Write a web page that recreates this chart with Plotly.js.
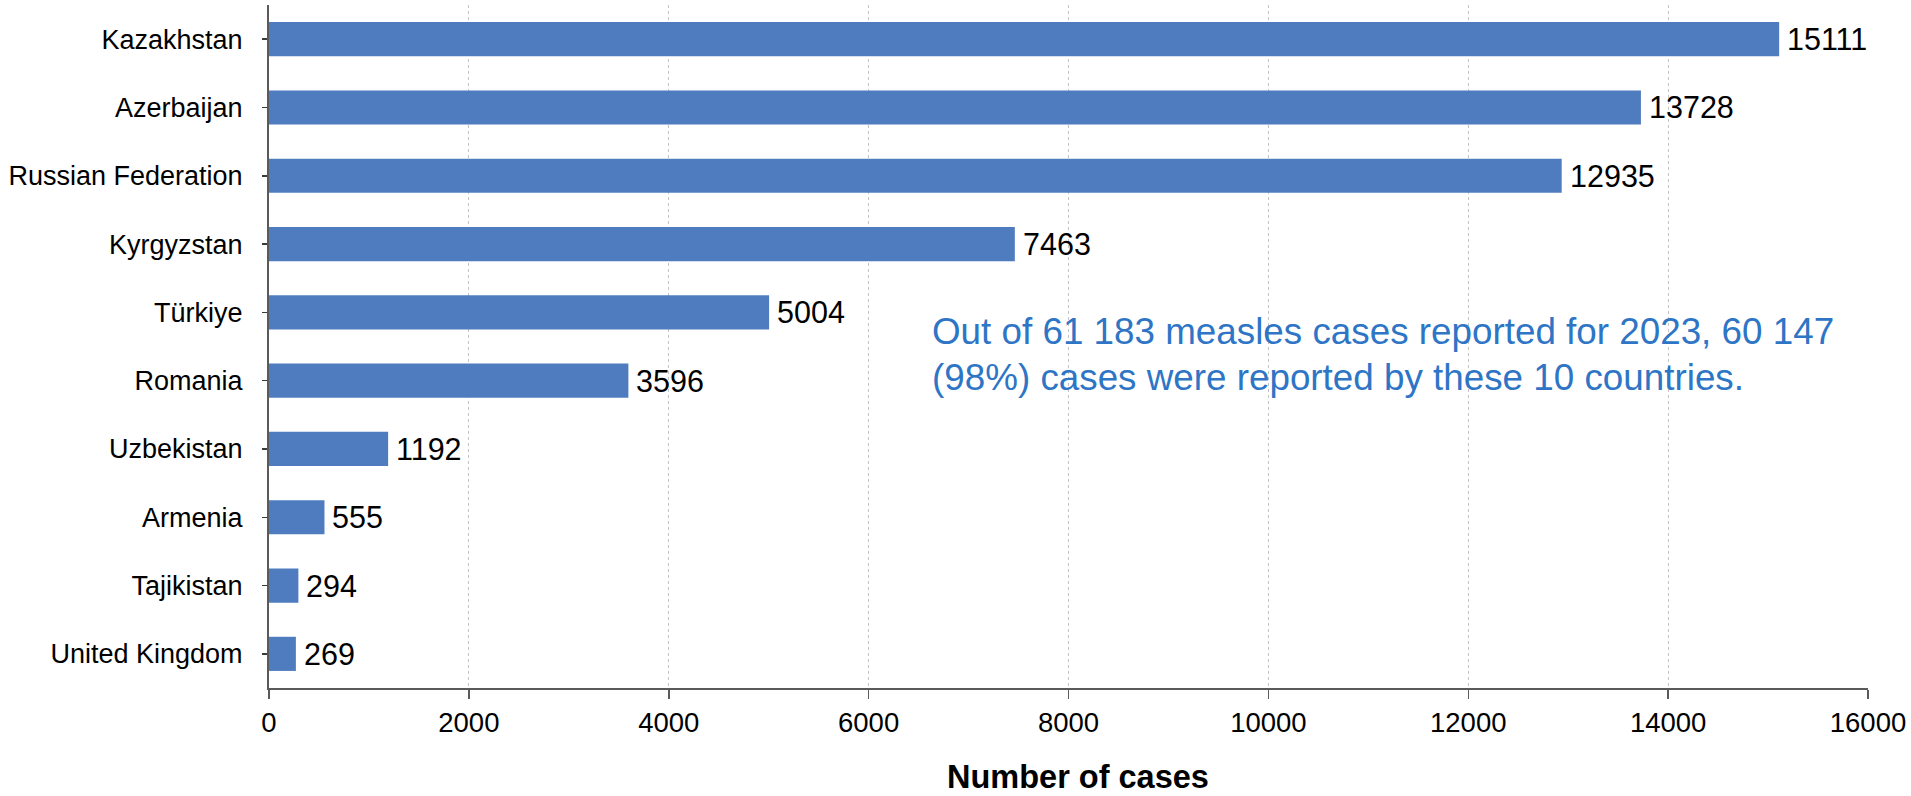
<!DOCTYPE html>
<html>
<head>
<meta charset="utf-8">
<script src="https://cdn.plot.ly/plotly-3.0.1.min.js"></script>
<style>
  html, body { margin: 0; padding: 0; background: #fff; }
  #chart { width: 1911px; height: 796px; }
</style>
</head>
<body>
<div id="chart"></div>
<script>
// Measles cases reported in 2023, top 10 countries
const countries = [
  "Kazakhstan", "Azerbaijan", "Russian Federation", "Kyrgyzstan", "Türkiye",
  "Romania", "Uzbekistan", "Armenia", "Tajikistan", "United Kingdom"
];
const cases = [15111, 13728, 12935, 7463, 5004, 3596, 1192, 555, 294, 269];
const xTicks = [0, 2000, 4000, 6000, 8000, 10000, 12000, 14000, 16000];
const noteLines = [
  "Out of 61 183 measles cases reported for 2023, 60 147",
  "(98%) cases were reported by these 10 countries."
];
const axisTitle = "Number of cases";

const FONT = "Liberation Sans, Arial, sans-serif";

const trace = {
  type: "bar",
  orientation: "h",
  x: cases,
  y: countries,
  width: 0.5,
  marker: { color: "#4f7cbf" },
  hoverinfo: "x+y"
};

// value labels next to each bar end
const valueLabels = countries.map((c, i) => ({
  x: cases[i],
  y: c,
  xref: "x",
  yref: "y",
  text: String(cases[i]),
  showarrow: false,
  xanchor: "left",
  yanchor: "middle",
  xshift: 6,
  font: { family: FONT, size: 30.5, color: "#000" }
}));

// two-line note, each line placed on its own
const noteY = [0.522, 0.454];
const notes = noteLines.map((t, i) => ({
  x: 6610,
  y: noteY[i],
  xref: "x",
  yref: "paper",
  text: t,
  showarrow: false,
  xanchor: "left",
  yanchor: "middle",
  font: { family: FONT, size: 36.8, color: "#2e75c6" }
}));

// bold axis title under the tick labels
const titleNote = {
  x: 0.506,
  y: 0,
  xref: "paper",
  yref: "paper",
  text: "<b>" + axisTitle + "</b>",
  showarrow: false,
  xanchor: "center",
  yanchor: "middle",
  yshift: -89,
  font: { family: FONT, size: 32.5, color: "#000" }
};

const layout = {
  width: 1911,
  height: 796,
  margin: { l: 269, r: 43, t: 5, b: 108 },
  paper_bgcolor: "#fff",
  plot_bgcolor: "#fff",
  showlegend: false,
  font: { family: FONT, color: "#000" },
  xaxis: {
    range: [0, 16000],
    tickvals: xTicks,
    ticktext: xTicks.map(String),
    showgrid: true,
    gridcolor: "#c4c4c4",
    griddash: "dot",
    gridwidth: 1,
    zeroline: false,
    showline: true,
    linecolor: "#5a5a5a",
    linewidth: 2,
    ticks: "outside",
    ticklen: 9,
    tickwidth: 1.5,
    tickcolor: "#5a5a5a",
    tickfont: { family: FONT, size: 27.5, color: "#000" },
    fixedrange: true
  },
  yaxis: {
    type: "category",
    autorange: false,
    range: [9.5, -0.5],
    showgrid: false,
    zeroline: false,
    showline: true,
    linecolor: "#5a5a5a",
    linewidth: 2,
    ticks: "outside",
    ticklen: 5,
    tickwidth: 1.5,
    tickcolor: "#3a3a3a",
    ticklabelstandoff: 14,
    tickfont: { family: FONT, size: 27, color: "#000" },
    fixedrange: true
  },
  annotations: valueLabels.concat(notes, [titleNote])
};

Plotly.newPlot("chart", [trace], layout, { displayModeBar: false, staticPlot: true });
</script>
</body>
</html>
